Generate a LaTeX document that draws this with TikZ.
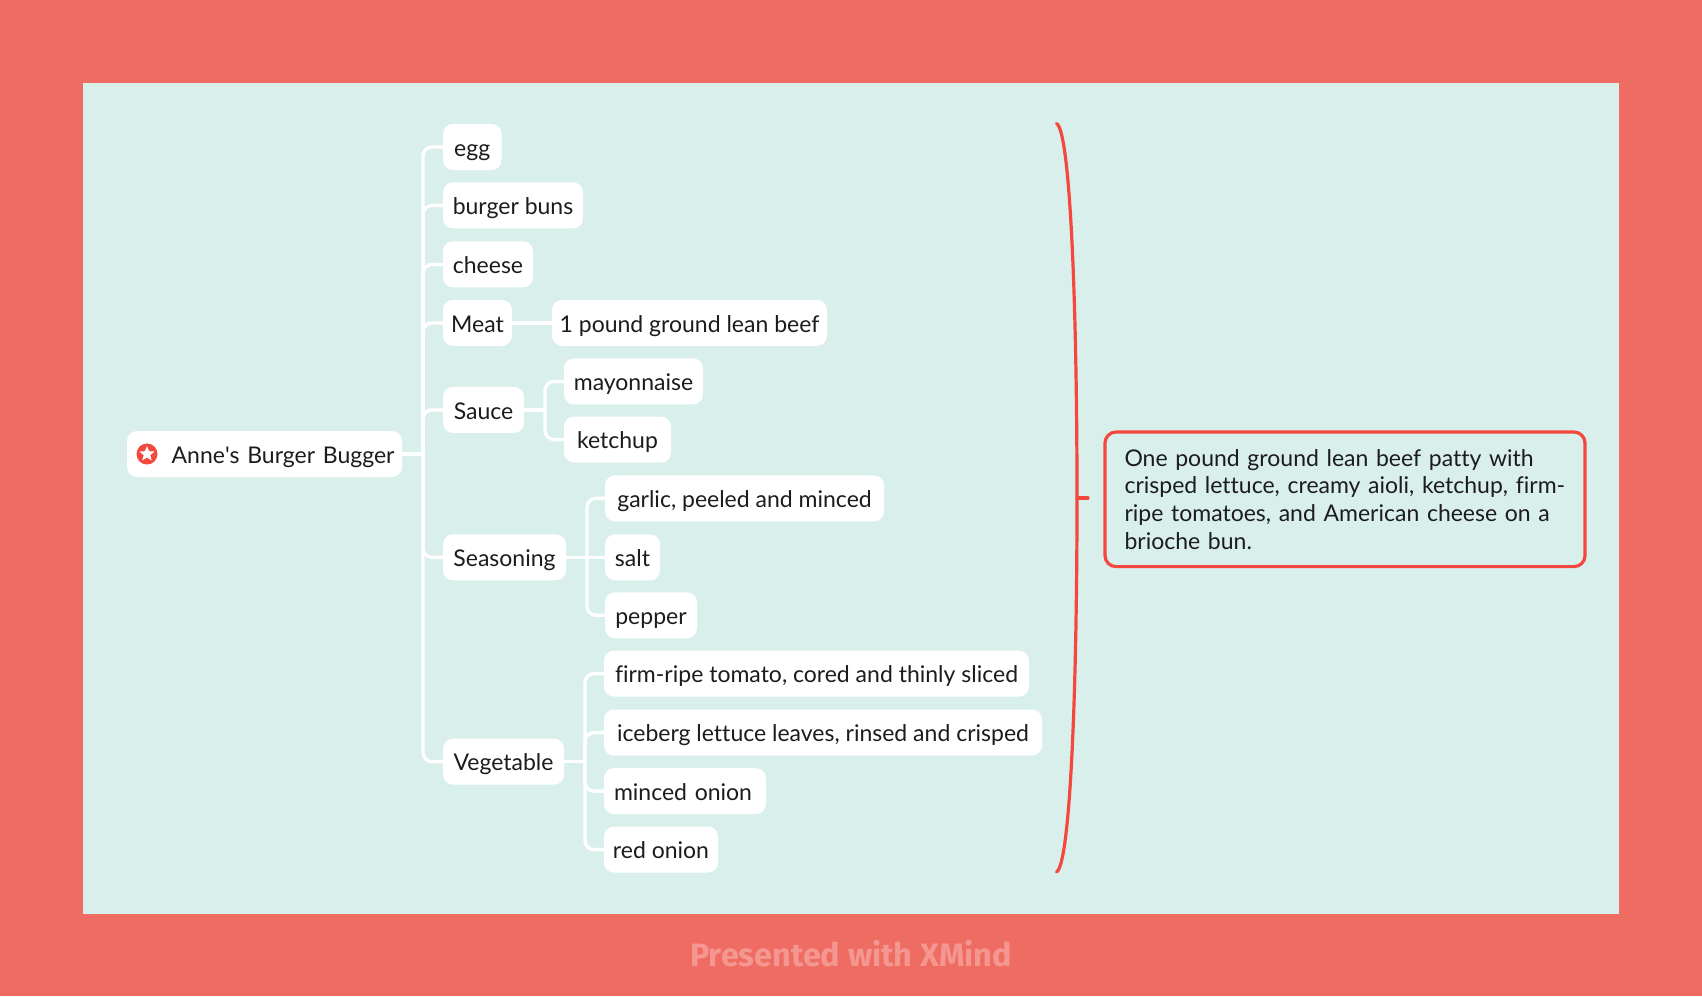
\documentclass[tikz,border=0pt]{standalone}
\usepackage{fontspec}
\usepackage{xcolor}
\setmainfont{Lato}[Ligatures=NoCommon]
\newfontfamily\footerfont{Fira Sans}
\usetikzlibrary{shapes.geometric, positioning, calc}
\definecolor{frameRed}{HTML}{EE6C62}
\definecolor{canvasMint}{HTML}{D9EFEC}
\definecolor{accentRed}{HTML}{F4483E}
\definecolor{footerPink}{HTML}{F59791}
\definecolor{inkBlack}{HTML}{1C1C1C}
\tikzset{
  topic/.style={
    rectangle, rounded corners=10pt,
    fill=white, text=inkBlack,
    minimum width=#1, align=center,
    minimum height=46pt,
    inner xsep=0pt, inner ysep=0pt, outer sep=0pt,
    text height=21.6pt, text depth=3pt,
    font=\fontsize{23}{28}\selectfont
  },
  topic/.default=100pt,
  summary/.style={
    rectangle, rounded corners=11pt,
    draw=accentRed, line width=3.2pt,
    text=inkBlack, text width=441pt, align=left,
    minimum height=134.6pt,
    inner xsep=19.5pt, inner ysep=0pt, outer sep=0pt,
    font=\fontsize{23}{27.6}\selectfont
  },
  conn/.style={draw=white, line width=3.3pt, rounded corners=9pt},
  brace/.style={draw=accentRed, line width=3.2pt, line cap=round}
}

\begin{document}
\begin{tikzpicture}[x=1pt, y=-1pt]

%------------------------------------------------------
% BACKGROUND
%------------------------------------------------------
\fill[frameRed] (0,0) rectangle (1702,996);
\useasboundingbox (0,0) rectangle (1702,996);
\fill[canvasMint] (83,83) rectangle (1619,913.5);
\node[text=footerPink, font=\fontsize{32.4}{36}\footerfont\bfseries] (footer) at (851,953.5) {Presented with XMind};

%------------------------------------------------------
% NODES
%------------------------------------------------------

% root
\node[topic=275pt, text width=260pt, align=right, anchor=west] (root) at (127,454) {Anne\textquotesingle s Burger Bugger};
\node[circle, fill=accentRed, minimum size=21pt, inner sep=0pt] (rootIcon) at (147,454) {};
\node[star, star points=5, star point ratio=2.3, fill=white, minimum size=16pt, inner sep=0pt] (rootStar) at (rootIcon) {};

% first level
\node[topic=58.5pt, anchor=west] (egg) at (443,147) {egg};
\node[topic=140pt, below=12.4pt of egg.south west, anchor=north west] (buns) {burger buns};
\node[topic=90pt, below=13pt of buns.south west, anchor=north west] (cheese) {cheese};
\node[topic=69pt, below=12.5pt of cheese.south west, anchor=north west] (meat) {Meat};
\node[topic=81pt, below=41pt of meat.south west, anchor=north west] (sauce) {Sauce};
\node[topic=123pt, below=101.4pt of sauce.south west, anchor=north west] (seasoning) {Seasoning};
\node[topic=121pt, below=158.3pt of seasoning.south west, anchor=north west] (vegetable) {Vegetable};

% meat
\node[topic=275pt, right=40pt of meat] (beef) {1 pound ground lean beef};

% sauce
\node[topic=139pt, above right=5.5pt and 40pt of sauce.east] (mayo) {mayonnaise};
\node[topic=107pt, below=12.2pt of mayo.south west, anchor=north west] (ketchup) {ketchup};

% seasoning
\node[topic=55pt, right=39pt of seasoning] (salt) {salt};
\node[topic=279pt, above=13pt of salt.north west, anchor=south west] (garlic) {garlic, peeled and minced};
\node[topic=92pt, below=12pt of salt.south west, anchor=north west] (pepper) {pepper};

% vegetable
\node[topic=438pt, above right=6pt and 40pt of vegetable.east] (iceberg) {iceberg lettuce leaves, rinsed and crisped};
\node[topic=425pt, above=13pt of iceberg.north west, anchor=south west] (tomato) {firm-ripe tomato, cored and thinly sliced};
\node[topic=162pt, text width=142pt, align=left, below=12.5pt of iceberg.south west, anchor=north west] (minced) {minced onion};
\node[topic=114pt, below=12.5pt of minced.south west, anchor=north west] (redonion) {red onion};

% summary
\node[summary, anchor=west] (recipe) at (1105,499.3) {%
  One pound ground lean beef patty with\\
  crisped lettuce, creamy aioli, ketchup, firm-\\
  ripe tomatoes, and American cheese on a\\
  brioche bun.};

%------------------------------------------------------
% EDGES
%------------------------------------------------------

\coordinate (rootFork) at ($(root.east)+(21,0)$);
\coordinate (sauceFork) at ($(sauce.east)+(21,0)$);
\coordinate (seasonFork) at ($(seasoning.east)+(21,0)$);
\coordinate (vegFork) at ($(vegetable.east)+(21,0)$);

\draw[conn] (root.east) -- (rootFork);
\draw[conn] (rootFork) |- (egg.west);
\draw[conn] (rootFork) |- (buns.west);
\draw[conn] (rootFork) |- (cheese.west);
\draw[conn] (rootFork) |- (meat.west);
\draw[conn] (rootFork) |- (sauce.west);
\draw[conn] (rootFork) |- (seasoning.west);
\draw[conn] (rootFork) |- (vegetable.west);

\draw[conn] (meat) -- (beef);

\draw[conn] (sauce.east) -- (sauceFork);
\draw[conn] (sauceFork) |- (mayo.west);
\draw[conn] (sauceFork) |- (ketchup.west);

\draw[conn] (seasoning) -- (salt);
\draw[conn] (seasonFork) |- (garlic.west);
\draw[conn] (seasonFork) |- (pepper.west);

\draw[conn] (vegetable.east) -- (vegFork);
\draw[conn] (vegFork) |- (tomato.west);
\draw[conn] (vegFork) |- (iceberg.west);
\draw[conn] (vegFork) |- (minced.west);
\draw[conn] (vegFork) |- (redonion.west);

% bracket
\coordinate (braceTop) at (1056.5,123.5);
\coordinate (braceMid) at (1077,498);
\coordinate (braceBot) at (1056.5,872);
\coordinate (braceTick) at (1088,498);
\draw[brace] (braceTop) .. controls (1070,130) and (1077,300) .. (braceMid)
  .. controls (1077,696) and (1070,865) .. (braceBot);
\draw[brace] (braceMid) -- (braceTick);

\end{tikzpicture}
\end{document}
